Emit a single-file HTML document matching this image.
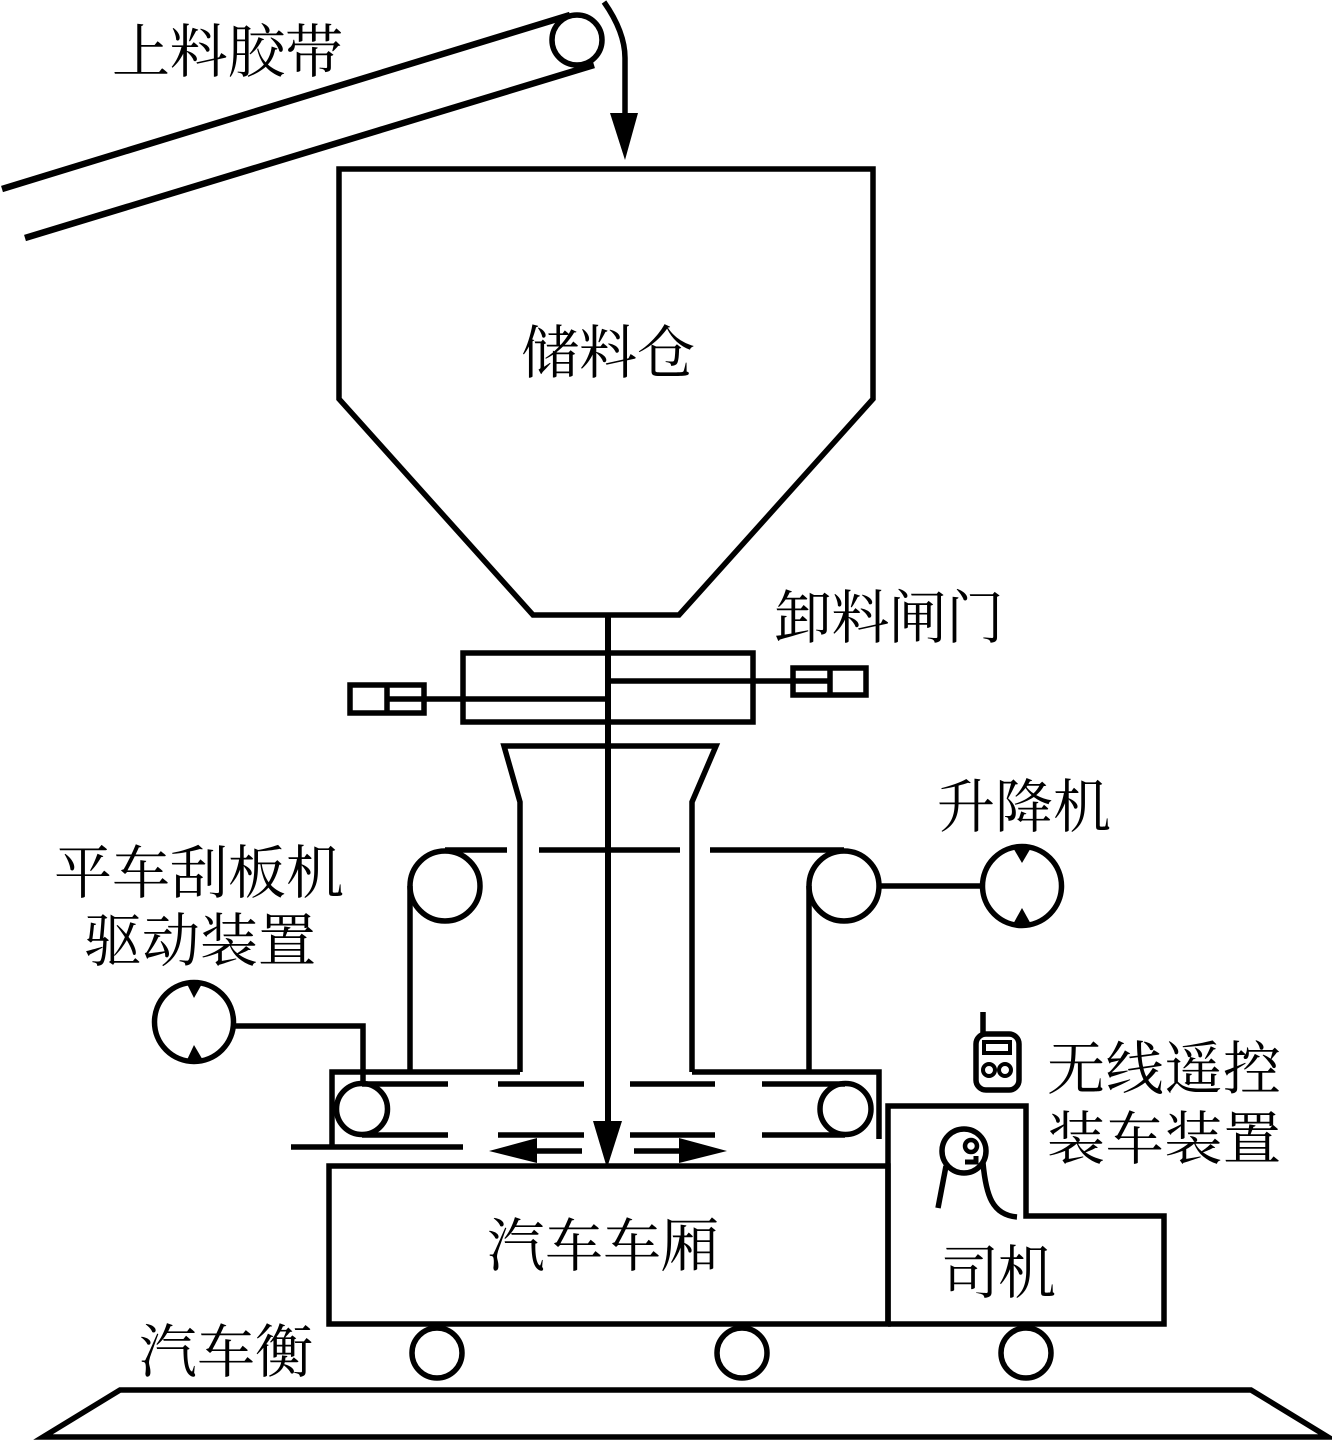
<!DOCTYPE html>
<html>
<head>
<meta charset="utf-8">
<style>
html,body{margin:0;padding:0;background:#fff;width:1332px;height:1441px;overflow:hidden}
svg{display:block}
text{font-family:"Liberation Serif","Noto Serif CJK SC",serif;font-size:58px;fill:#000;font-weight:400}
</style>
</head>
<body>
<svg width="1332" height="1441" viewBox="0 0 1332 1441" xmlns="http://www.w3.org/2000/svg">
<g fill="none" stroke="#000" stroke-width="5.5">
<!-- conveyor -->
<line x1="2" y1="189" x2="570" y2="15" stroke-width="6.5"/>
<line x1="25" y1="238" x2="594" y2="65" stroke-width="6.5"/>
<circle cx="577" cy="40" r="25"/>
<path d="M604 2 Q625 32 625 58 L625 116"/>
<!-- hopper -->
<path d="M339 169 H873 V399 L679 615 H533 L339 399 Z"/>
<!-- centre line -->
<line x1="608" y1="615" x2="608" y2="1130" stroke-width="6"/>
<!-- gate -->
<rect x="463" y="653" width="290" height="69"/>
<line x1="388" y1="699" x2="608" y2="699"/>
<line x1="608" y1="681" x2="830" y2="681"/>
<rect x="350" y="685" width="74" height="28"/>
<line x1="387" y1="685" x2="387" y2="713"/>
<rect x="793" y="668" width="73" height="27"/>
<line x1="830" y1="668" x2="830" y2="695"/>
<!-- funnel and frames -->
<path d="M520 1072 V802 L504 746 H716 L692 802 V1072"/>
<path d="M520 1072 H332 V1147"/>
<path d="M692 1072 H879 V1139"/>
<line x1="291" y1="1147" x2="463" y2="1147"/>
<!-- upper belt -->
<line x1="445" y1="850" x2="507" y2="850"/>
<line x1="539" y1="850" x2="680" y2="850"/>
<line x1="710" y1="850" x2="844" y2="850"/>
<circle cx="445" cy="886" r="35"/>
<circle cx="844" cy="886" r="35"/>
<line x1="410" y1="886" x2="410" y2="1072"/>
<line x1="809" y1="886" x2="809" y2="1072"/>
<!-- motors -->
<line x1="879" y1="886" x2="982" y2="886"/>
<circle cx="1022" cy="886" r="39.5"/>
<circle cx="194" cy="1022" r="39.5"/>
<path d="M235 1026 H363 V1084"/>
<!-- lower belt -->
<circle cx="362" cy="1109" r="25.5"/>
<circle cx="845.5" cy="1109" r="25.5"/>
<path d="M362 1084 H448 M498 1084 H584 M630 1084 H715 M762 1084 H845"/>
<path d="M362 1135 H448 M498 1135 H584 M630 1135 H715 M762 1135 H845"/>
<line x1="537" y1="1151" x2="582" y2="1151"/>
<line x1="634" y1="1151" x2="680" y2="1151"/>
<!-- truck -->
<rect x="329" y="1166" width="559" height="158"/>
<path d="M888 1324 V1106 H1026 V1216 H1164 V1324 H888"/>
<!-- remote -->
<line x1="983" y1="1012" x2="983" y2="1034"/>
<rect x="976" y="1034" width="43" height="56" rx="10"/>
<rect x="984" y="1042" width="26" height="11" stroke-width="4"/>
<circle cx="989" cy="1070" r="6" stroke-width="4"/>
<circle cx="1005" cy="1070" r="6" stroke-width="4"/>
<!-- driver -->
<circle cx="964" cy="1151" r="22"/>
<circle cx="971" cy="1146" r="6" stroke-width="4.5"/>
<path d="M976 1156 V1162 H965" stroke-width="5"/>
<line x1="946" y1="1166" x2="938" y2="1208"/>
<path d="M983 1163 C986 1195 992 1215 1017 1217"/>
<!-- wheels -->
<circle cx="437" cy="1353" r="25"/>
<circle cx="742" cy="1353" r="25"/>
<circle cx="1026" cy="1353" r="25"/>
<!-- scale -->
<path d="M120 1390 H1251 L1328 1437 H43 Z"/>
</g>
<g fill="#000" stroke="none">
<polygon points="610,113 638,113 625,160"/>
<polygon points="593,1121 622,1121 607,1168"/>
<polygon points="537,1138 537,1163 489,1151"/>
<polygon points="679,1138 679,1163 727,1151"/>
<polygon points="1012,846 1032,846 1022,863"/>
<polygon points="1012,926 1032,926 1022,908"/>
<polygon points="186,982 203,982 194,998"/>
<polygon points="186,1062 204,1062 194,1045"/>
</g>
<text x="112" y="72" textLength="231">上料胶带</text>
<text x="521" y="373" textLength="174">储料仓</text>
<text x="774" y="638" textLength="230">卸料闸门</text>
<text x="937" y="827" textLength="174">升降机</text>
<text x="54" y="893" textLength="290">平车刮板机</text>
<text x="84" y="961" textLength="232">驱动装置</text>
<text x="1047" y="1089" textLength="234">无线遥控</text>
<text x="1047" y="1159" textLength="234">装车装置</text>
<text x="487" y="1266" textLength="232">汽车车厢</text>
<text x="941" y="1293" textLength="115">司机</text>
<text x="139" y="1372" textLength="174">汽车衡</text>
</svg>
</body>
</html>
